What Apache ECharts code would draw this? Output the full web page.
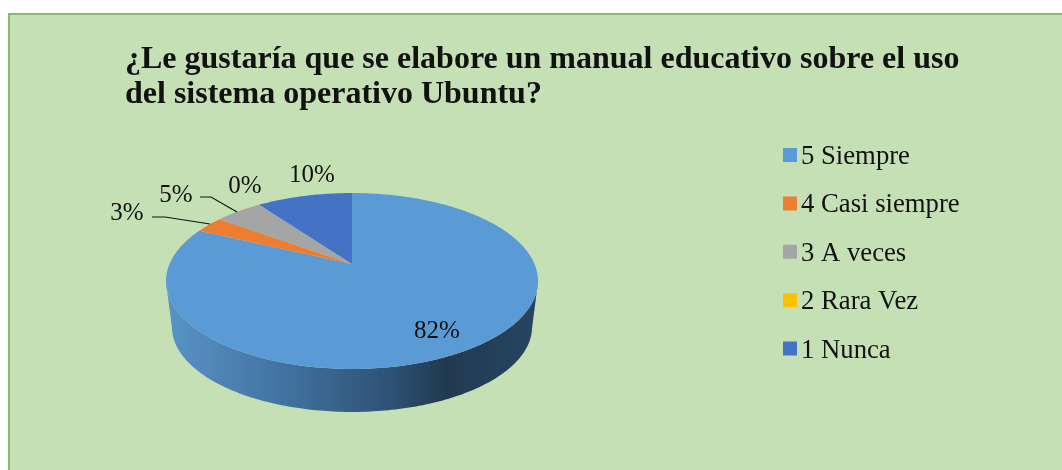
<!DOCTYPE html>
<html>
<head>
<meta charset="utf-8">
<style>
  html, body { margin: 0; padding: 0; background: #fff; }
  #chart { width: 1062px; height: 470px; }
</style>
<script src="https://cdn.jsdelivr.net/npm/echarts@6/dist/echarts.min.js"></script>
</head>
<body>
<div id="chart"></div>
<script>
var titleText = '¿Le gustaría que se elabore un manual educativo sobre el uso\ndel sistema operativo Ubuntu?';
var categories = ['5 Siempre', '4 Casi siempre', '3 A veces', '2 Rara Vez', '1 Nunca'];
var values = [82, 3, 5, 0, 10];
var palette = ['#5b9bd5', '#ed7d31', '#a5a5a5', '#ffc000', '#4472c4'];

// where each percent label sits, and its leader line if it has one
var labelPos = [[437, 331], [127, 213], [176, 195], [245, 186], [312, 175]];
var leaders = [null, [[152, 217], [165, 217], [210, 224]], [[200, 197], [211, 197], [237, 212]], null, null];

var fontFamily = '"Liberation Serif", "Times New Roman", serif';
var total = values.reduce(function (a, b) { return a + b; }, 0);

// tilted disc: the centre of the pie is not the centre of the ellipse
var cx = 352, cy = 264, ax = 182.5, ay = 84.7, persp = 0.193;

function topPoint(t) {
  var u = Math.sin(t), v = Math.cos(t), w = 1 + persp * v;
  return [cx + ax * u / w, cy - ay * v / w];
}
function bottomPoint(t) {
  var p = topPoint(t);
  return [cx + (p[0] - cx) * 0.968, 327 + (p[1] - 281) * 0.966];
}
function rim(from, to, fn) {
  var pts = [], n = Math.max(2, Math.ceil((to - from) * 60));
  for (var i = 0; i <= n; i++) pts.push(fn(from + (to - from) * i / n));
  return pts;
}

var wallFill = new echarts.graphic.LinearGradient(166, 0, 538, 0, [
  { offset: 0, color: '#5a93c8' },
  { offset: 0.35, color: '#3f6f9b' },
  { offset: 0.6, color: '#2f5276' },
  { offset: 0.75, color: '#213a50' },
  { offset: 1, color: '#264562' }
], true);

var series = categories.map(function (name, idx) {
  var before = values.slice(0, idx).reduce(function (a, b) { return a + b; }, 0);
  return {
    type: 'custom',
    name: name,
    coordinateSystem: 'none',
    itemStyle: { color: palette[idx] },
    data: [[before, values[idx]]],
    renderItem: function (params, api) {
      var start = api.value(0) / total * Math.PI * 2;
      var end = start + api.value(1) / total * Math.PI * 2;
      var children = [];

      // side wall only below the widest point of the disc
      var front = rim(start, end, function (t) { return t; }).filter(function (t) { return Math.cos(t) < -persp; });
      if (front.length > 1) {
        var wall = front.map(topPoint).concat(front.slice().reverse().map(bottomPoint));
        children.push({ type: 'polygon', shape: { points: wall }, style: { fill: wallFill } });
      }
      if (end > start) {
        children.push({
          type: 'polygon',
          shape: { points: [[cx, cy]].concat(rim(start, end, topPoint)) },
          style: { fill: palette[idx] }
        });
      }
      return { type: 'group', children: children };
    }
  };
});

// percent labels go in last so the faces never cover them
series.push({
  type: 'custom',
  coordinateSystem: 'none',
  silent: true,
  data: values.map(function (v, i) { return [i, v]; }),
  renderItem: function (params, api) {
    var i = api.value(0);
    var children = [{
      type: 'text',
      style: {
        x: labelPos[i][0], y: labelPos[i][1],
        text: api.value(1) + '%',
        font: '25px ' + fontFamily,
        fill: '#111',
        align: 'center', verticalAlign: 'middle'
      }
    }];
    if (leaders[i]) {
      children.push({
        type: 'polyline',
        shape: { points: leaders[i] },
        style: { stroke: '#111', lineWidth: 1.2, fill: 'none' }
      });
    }
    return { type: 'group', children: children };
  }
});

var chart = echarts.init(document.getElementById('chart'), null, { renderer: 'canvas' });
chart.setOption({
  animation: false,
  backgroundColor: '#ffffff',
  graphic: [{
    type: 'rect',
    z: -10,
    shape: { x: 9, y: 14, width: 1100, height: 500 },
    style: { fill: '#c5e0b4', stroke: '#8abb6c', lineWidth: 2 }
  }],
  title: {
    text: titleText,
    left: 120,
    top: 37,
    textStyle: {
      fontFamily: fontFamily,
      fontSize: 32,
      fontWeight: 'bold',
      color: '#111',
      lineHeight: 35
    }
  },
  legend: {
    data: categories,
    orient: 'vertical',
    left: 778,
    top: 138,
    // square sits at the top of an 18px tall icon, so it lines up with the text
    icon: 'path://M0 0H14V14H0ZM0 18L0.01 18Z',
    itemWidth: 14,
    itemHeight: 18,
    itemGap: 20.4,
    selectedMode: false,
    textStyle: {
      fontFamily: fontFamily,
      fontSize: 26.7,
      color: '#111',
      lineHeight: 28,
      padding: [0, 0, 0, -1]
    }
  },
  series: series
});
</script>
</body>
</html>
